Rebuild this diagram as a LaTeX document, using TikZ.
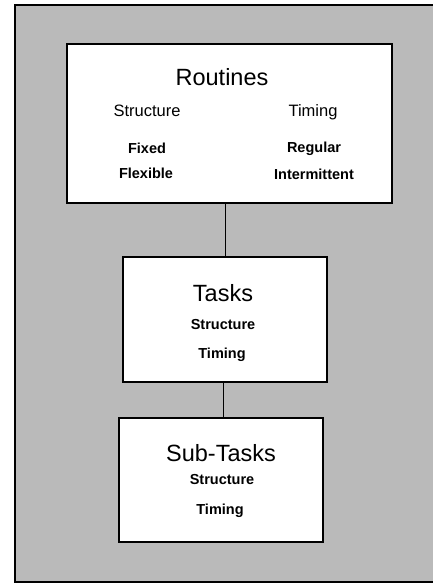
\documentclass[tikz,border=0pt]{standalone}
\usepackage{fontspec}
\setmainfont{Liberation Sans}

\tikzset{
  levelbox/.style={draw, fill=white, line width=1.2pt, inner sep=0pt},
  title/.style={font=\fontsize{23.5}{27}\selectfont},
  head/.style={font=\fontsize{16.5}{19}\selectfont},
  item/.style={font=\bfseries\fontsize{14.5}{17}\selectfont},
}

\begin{document}
\begin{tikzpicture}[x=1pt, y=-1pt, line width=0.8pt]

  % ── halftone background panel ──
  \fill[black!27] (15,5) rectangle (433,582);
  \draw[line width=1.2pt] (433,5) -- (15,5) -- (15,582) -- (433,582);

  % ── the three level boxes ──
  \node[levelbox, minimum width=325pt, minimum height=159pt] (routines) at (229.5,123.5) {};
  \node[levelbox, minimum width=204pt, minimum height=125pt] (tasks)    at (225,319.5) {};
  \node[levelbox, minimum width=204pt, minimum height=124pt] (subtasks) at (221,480) {};

  % ── connectors ──
  \coordinate (link) at (223,400);
  \draw (tasks.north |- routines.south) -- (tasks.north);
  \draw (link |- tasks.south) -- (link |- subtasks.north);

  % ── Routines ──
  \node[title] (rtitle)  at (222,77)  {Routines};
  \node[head]  (rstruct) at (147,111) {Structure};
  \node[head]  (rtime)   at (313,112) {Timing};
  \node[item]  (rfixed)  at (147,148) {Fixed};
  \node[item]  (rflex)   at (146,173) {Flexible};
  \node[item]  (rreg)    at (314,149) {Regular};
  \node[item]  (rint)    at (314,174) {Intermittent};

  % ── Tasks ──
  \node[title] (ttitle)  at (223,293) {Tasks};
  \node[item]  (tstruct) at (223,325) {Structure};
  \node[item]  (ttime)   at (222,355) {Timing};

  % ── Sub-Tasks ──
  \node[title] (stitle)  at (221,453) {Sub-Tasks};
  \node[item]  (sstruct) at (222,480) {Structure};
  \node[item]  (stime)   at (220,511) {Timing};

  \pgfresetboundingbox
  \path[use as bounding box] (0,0) rectangle (433,584);
\end{tikzpicture}
\end{document}
